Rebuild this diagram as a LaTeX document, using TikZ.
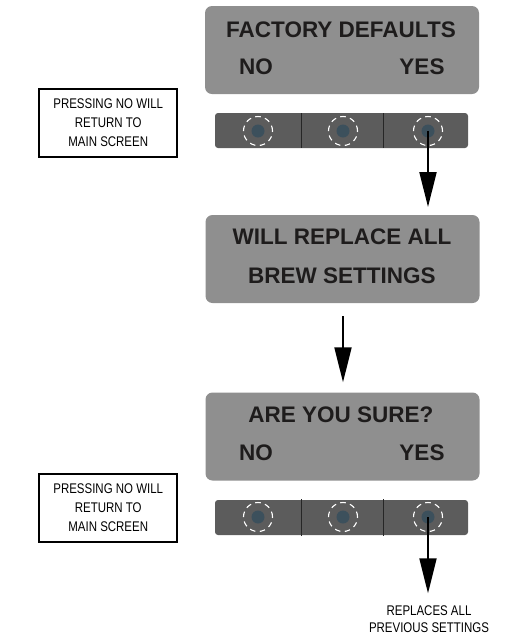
\documentclass[tikz,border=0pt]{standalone}
\usepackage{fontspec}
\setmainfont{Liberation Sans}
\newfontfamily\narrowfont[FakeStretch=0.82]{Liberation Sans}
\usetikzlibrary{arrows.meta, positioning}
\definecolor{screengray}{RGB}{143,143,143}
\definecolor{bargray}{RGB}{92,92,92}
\definecolor{dotblue}{RGB}{60,80,92}
\definecolor{inkblack}{RGB}{30,28,28}

\tikzset{
  screenbox/.style={draw=none, fill=screengray, rounded corners=7pt, minimum width=274pt, minimum height=88pt, inner sep=0pt},
  screentext/.style={text=inkblack, font=\bfseries\fontsize{22.5}{26}\selectfont, inner sep=0pt},
  keybar/.style={fill=bargray, rounded corners=3pt, minimum width=253pt, minimum height=35pt, inner sep=0pt},
  keyring/.style={circle, draw=white, dash pattern=on 5.5pt off 4.5pt, line width=1.1pt, minimum size=29pt, inner sep=0pt},
  keydot/.style={circle, fill=dotblue, minimum size=13pt, inner sep=0pt},
  notebox/.style={draw=black, line width=1.8pt, fill=white, align=center, font=\narrowfont\fontsize{14}{19}\selectfont, minimum height=68pt, inner xsep=14pt},
  flowarrow/.style={draw=black, line width=2pt, -{Triangle[length=35pt, width=17pt]}}
}

\begin{document}
\begin{tikzpicture}[x=1pt, y=-1pt]
    \useasboundingbox (0,0) rectangle (512,641);

    % first screen: factory defaults
    \node[screenbox] (scr1) at (342,50) {};
    \node[screentext] (fd) at (341,30) {FACTORY DEFAULTS};
    \node[screentext] (no1) at (256,67) {NO};
    \node[screentext] (yes1) at (422,67) {YES};

    % keys under the first screen
    \node[keybar] (bar1) at (341.5,130.5) {};
    \draw[line width=1pt, black!85] (301,113) -- (301,148);
    \draw[line width=1pt, black!85] (383,113) -- (383,148);
    \node[keyring] (ringa1) at (258,131) {};
    \node[keyring] (ringb1) at (343,131) {};
    \node[keyring] (ringc1) at (428,131) {};
    \node[keydot] (keya1) at (258,131) {};
    \node[keydot] (keyb1) at (343,131) {};
    \node[keydot] (keyc1) at (428,131) {};

    % note left of the first keys
    \node[notebox, anchor=east] (note1) at (178,123) {PRESSING NO WILL\\RETURN TO\\MAIN SCREEN};

    % second screen: warning
    \node[screenbox] (scr2) at (342.5,259) {};
    \node[screentext] (warn1) at (342,237) {WILL REPLACE ALL};
    \node[screentext] (warn2) at (342,276) {BREW SETTINGS};

    % third screen: are you sure
    \node[screenbox] (scr3) at (342.5,436.5) {};
    \node[screentext] (sure) at (341,415) {ARE YOU SURE?};
    \node[screentext] (no2) at (256,453) {NO};
    \node[screentext] (yes2) at (422,453) {YES};

    % keys under the third screen
    \node[keybar] (bar2) at (341.5,517.5) {};
    \draw[line width=1pt, black!85] (301,499) -- (301,536);
    \draw[line width=1pt, black!85] (383,499) -- (383,536);
    \node[keyring] (ringa2) at (258,517) {};
    \node[keyring] (ringb2) at (343,517) {};
    \node[keyring] (ringc2) at (428,517) {};
    \node[keydot] (keya2) at (258,517) {};
    \node[keydot] (keyb2) at (343,517) {};
    \node[keydot] (keyc2) at (428,517) {};

    % note left of the second keys
    \node[notebox, anchor=east] (note2) at (178,508) {PRESSING NO WILL\\RETURN TO\\MAIN SCREEN};

    % result text
    \node[align=center, font=\narrowfont\fontsize{14}{17}\selectfont, inner sep=0pt] (done) at (429,619) {REPLACES ALL\\PREVIOUS SETTINGS};

    % arrows
    \coordinate (in2) at (428,207);
    \draw[flowarrow] (keyc1.center) -- (in2);
    \draw[flowarrow, shorten <=13pt, shorten >=10pt] (scr2.south -| keyb1) -- (scr3.north -| keyb1);
    \draw[flowarrow, shorten >=12pt] (keyc2.center) -- (done.north -| keyc2);
\end{tikzpicture}
\end{document}
